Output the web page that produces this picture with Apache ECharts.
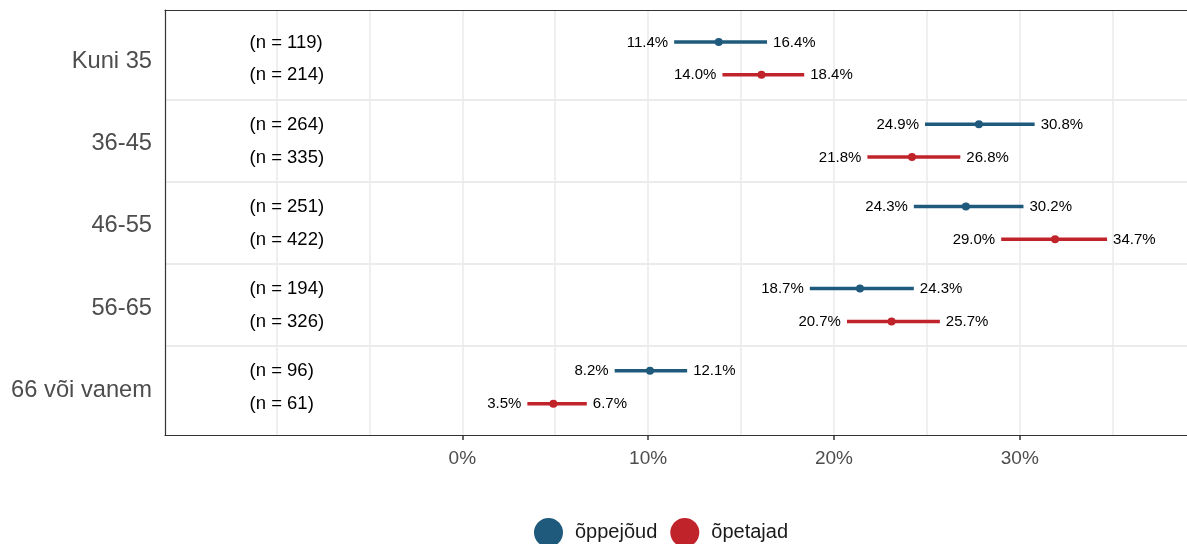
<!DOCTYPE html>
<html><head><meta charset="utf-8">
<script src="https://cdn.jsdelivr.net/npm/echarts@6/dist/echarts.min.js"></script>
<style>html,body{margin:0;padding:0;background:#fff}#c{width:1187px;height:544px}</style>
</head><body><div id="c"></div>
<script>
const categories = ['Kuni 35','36-45','46-55','56-65','66 või vanem'];
const seriesNames = ['õppejõud','õpetajad'];
const nOpp = [119,264,251,194,96];
const nOpe = [214,335,422,326,61];
const estOpp = [13.8,27.8,27.1,21.4,10.1];
const lowOpp = [11.4,24.9,24.3,18.7,8.2];
const highOpp = [16.4,30.8,30.2,24.3,12.1];
const estOpe = [16.1,24.2,31.9,23.1,4.9];
const lowOpe = [14.0,21.8,29.0,20.7,3.5];
const highOpe = [18.4,26.8,34.7,25.7,6.7];
const xTickLabels = [0,10,20,30];
const xGridValues = [-10,-5,0,5,10,15,20,25,30,35];

const FONT = '"Liberation Sans", Arial, sans-serif';
const BLUE = '#1f5a7d';
const RED = '#c1232b';
// row layout: within group i, first series at i*2.5, second at i*2.5+1
const rowY = (i, s) => i * 2.5 + s;
const groupCenters = categories.map((c, i) => rowY(i, 0) + 0.5);
const separators = categories.slice(1).map((c, i) => rowY(i, 1) + 0.75);

function intervalData(lo, hi, n, s) {
  return categories.map((c, i) => [lo[i], hi[i], rowY(i, s), n[i]]);
}
function pointData(est, s) {
  return categories.map((c, i) => [est[i], rowY(i, s)]);
}
function renderInterval(color) {
  return function (params, api) {
    const y = api.value(2);
    const lo = api.coord([api.value(0), y]);
    const hi = api.coord([api.value(1), y]);
    const nPos = api.coord([-11.45, y]);
    const txt = (t, x, align) => ({
      type: 'text', x: x, y: lo[1] + 0.5,
      style: { text: t, align: align, verticalAlign: 'middle', fill: '#000', font: '15px ' + FONT }
    });
    return {
      type: 'group', children: [
        { type: 'line', shape: { x1: lo[0], y1: lo[1], x2: hi[0], y2: hi[1] },
          style: { stroke: color, lineWidth: 3.5 } },
        txt(api.value(0).toFixed(1) + '%', lo[0] - 6, 'right'),
        txt(api.value(1).toFixed(1) + '%', hi[0] + 6, 'left'),
        { type: 'text', x: nPos[0], y: lo[1] + 0.5,
          style: { text: '(n = ' + api.value(3) + ')', align: 'left', verticalAlign: 'middle', fill: '#000', font: '18.5px ' + FONT } }
      ]
    };
  };
}

const chart = echarts.init(document.getElementById('c'), null, { renderer: 'canvas' });
chart.setOption({
  animation: false,
  backgroundColor: '#fff',
  grid: { left: 165, right: 0, top: 10, bottom: 109 },
  legend: {
    left: 529, top: 513, itemWidth: 29, itemHeight: 29, itemGap: 13,
    icon: 'circle',
    data: seriesNames,
    textStyle: { fontSize: 20, color: '#1a1a1a', fontFamily: FONT, padding: [0, 0, 0, 7] }
  },
  xAxis: [
    {
      type: 'value', position: 'bottom', min: -16, max: 39,
      axisLine: { show: true, onZero: false, lineStyle: { color: '#333', width: 1.2 } },
      axisTick: { show: true, customValues: xTickLabels, length: 5, lineStyle: { color: '#333', width: 1.5 } },
      axisLabel: { customValues: xTickLabels, formatter: v => v + '%', fontSize: 19, color: '#4d4d4d', fontFamily: FONT, margin: 14 },
      splitLine: { show: false }
    },
    {
      type: 'value', position: 'top', min: -16, max: 39,
      axisLine: { show: true, onZero: false, lineStyle: { color: '#333', width: 1.2 } },
      axisTick: { show: false, customValues: xGridValues },
      axisLabel: { show: false },
      splitLine: { show: true, lineStyle: { color: '#ebebeb', width: 1.6 } }
    }
  ],
  yAxis: {
    type: 'value', inverse: true, min: -0.97, max: 11.95,
    axisLine: { show: true, onZero: false, lineStyle: { color: '#333', width: 1.2 } },
    axisTick: { show: false, customValues: separators },
    axisLabel: {
      customValues: groupCenters,
      formatter: v => categories[Math.round((v - 0.5) / 2.5)],
      fontSize: 23.7, color: '#4d4d4d', fontFamily: FONT, margin: 13,
      verticalAlign: 'top', lineHeight: 6
    },
    splitLine: { show: true, lineStyle: { color: '#ebebeb', width: 2 } }
  },
  series: [
    { type: 'custom', name: seriesNames[0], renderItem: renderInterval(BLUE), data: intervalData(lowOpp, highOpp, nOpp, 0),
      encode: { x: [0, 1], y: 2 }, itemStyle: { color: BLUE }, z: 3 },
    { type: 'custom', name: seriesNames[1], renderItem: renderInterval(RED), data: intervalData(lowOpe, highOpe, nOpe, 1),
      encode: { x: [0, 1], y: 2 }, itemStyle: { color: RED }, z: 3 },
    { type: 'scatter', name: seriesNames[0], data: pointData(estOpp, 0), symbolSize: 8, itemStyle: { color: BLUE, opacity: 1 }, z: 4 },
    { type: 'scatter', name: seriesNames[1], data: pointData(estOpe, 1), symbolSize: 8, itemStyle: { color: RED, opacity: 1 }, z: 4 }
  ]
});
</script></body></html>
